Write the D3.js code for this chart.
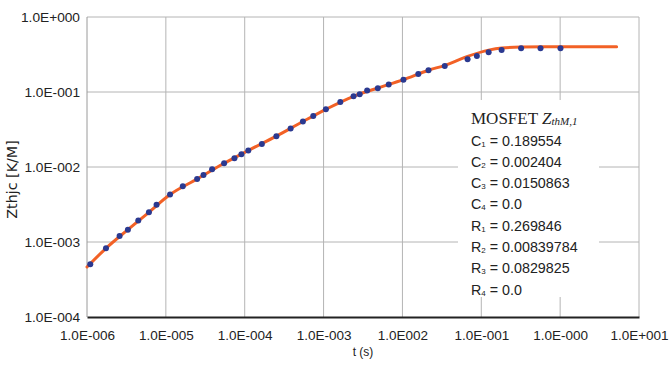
<!DOCTYPE html>
<html>
<head>
<meta charset="utf-8">
<script src="https://cdn.jsdelivr.net/npm/d3@7"></script>
<style>
  body { margin: 0; background: #fff; }
  svg { display: block; }
</style>
</head>
<body>
<script>
const dotT = [1.10e-6, 1.74e-6, 2.59e-6, 3.30e-6, 4.47e-6, 6.10e-6, 7.62e-6, 1.13e-5, 1.64e-5, 2.49e-5,
              3.00e-5, 3.86e-5, 5.48e-5, 7.41e-5, 9.08e-5, 1.11e-4, 1.65e-4, 2.52e-4, 3.82e-4, 5.47e-4,
              7.40e-4, 1.07e-3, 1.63e-3, 2.40e-3, 2.87e-3, 3.57e-3, 4.87e-3, 6.70e-3, 1.03e-2, 1.59e-2,
              2.14e-2, 3.44e-2, 6.70e-2, 8.79e-2, 0.124, 0.181, 0.320, 0.564, 1.01];
const dotZ = [5.04e-4, 8.24e-4, 1.20e-3, 1.46e-3, 1.93e-3, 2.49e-3, 3.15e-3, 4.29e-3, 5.53e-3, 6.92e-3,
              7.82e-3, 9.31e-3, 1.12e-2, 1.31e-2, 1.48e-2, 1.66e-2, 2.02e-2, 2.58e-2, 3.25e-2, 4.04e-2,
              4.79e-2, 5.88e-2, 7.33e-2, 8.77e-2, 9.31e-2, 0.105, 0.112, 0.126, 0.146, 0.174,
              0.195, 0.222, 0.273, 0.301, 0.340, 0.362, 0.383, 0.383, 0.383];

const fitT = [1e-6, 1.74e-6, 3.30e-6, 6.10e-6, 1.13e-5, 2.49e-5, 5.48e-5, 1.11e-4, 2.52e-4, 5.47e-4,
              1.07e-3, 2.40e-3, 4.87e-3, 1.03e-2, 2.14e-2, 3.46e-2, 6.70e-2, 0.124, 0.182, 0.318, 0.99, 5.2];
const fitZ = [4.64e-4, 8.24e-4, 1.46e-3, 2.49e-3, 4.29e-3, 6.92e-3, 1.12e-2, 1.66e-2, 2.58e-2, 4.04e-2,
              5.88e-2, 8.77e-2, 0.113, 0.146, 0.195, 0.227, 0.299, 0.362, 0.386, 0.397, 0.401, 0.401];

const xTicks = [1e-6, 1e-5, 1e-4, 1e-3, 1e-2, 1e-1, 1, 10];
const xTickLabels = ["1.0E-006", "1.0E-005", "1.0E-004", "1.0E-003", "1.0E002", "1.0E-001", "1.0E-000", "1.0E+001"];
const yTicks = [1e-4, 1e-3, 1e-2, 1e-1, 1];
const yTickLabels = ["1.0E-004", "1.0E-003", "1.0E-002", "1.0E-001", "1.0E+000"];

const paramNames = ["C", "C", "C", "C", "R", "R", "R", "R"];
const paramIdx = ["1", "2", "3", "4", "1", "2", "3", "4"];
const paramValues = ["0.189554", "0.002404", "0.0150863", "0.0", "0.269846", "0.00839784", "0.0829825", "0.0"];

const width = 670, height = 370;
const plotLeft = 87, plotRight = 639, plotTop = 17, plotBottom = 317;
const sans = "'Liberation Sans', Arial, Helvetica, sans-serif";

const svg = d3.select("body").append("svg")
    .attr("width", width)
    .attr("height", height);

const x = d3.scaleLog().domain([1e-6, 10]).range([plotLeft, plotRight]);
const y = d3.scaleLog().domain([1e-4, 1]).range([plotBottom, plotTop]);

// grid
const grid = svg.append("g");
grid.selectAll("line.v")
    .data(xTicks.slice(1))
    .enter().append("line")
    .attr("class", "v")
    .attr("x1", d => x(d)).attr("x2", d => x(d))
    .attr("y1", plotTop).attr("y2", plotBottom)
    .attr("stroke", "#b4b4b4").attr("stroke-width", 1);
grid.selectAll("line.h")
    .data(yTicks.slice(1))
    .enter().append("line")
    .attr("class", "h")
    .attr("x1", plotLeft).attr("x2", plotRight)
    .attr("y1", d => y(d)).attr("y2", d => y(d))
    .attr("stroke", "#b4b4b4").attr("stroke-width", 1);

// left axis line
svg.append("line")
    .attr("x1", plotLeft).attr("x2", plotLeft)
    .attr("y1", plotTop).attr("y2", plotBottom)
    .attr("stroke", "#9a9a9a").attr("stroke-width", 1);

// bottom axis
const xAxis = svg.append("g")
    .attr("transform", `translate(0,${plotBottom})`)
    .call(d3.axisBottom(x).tickValues(xTicks).tickSize(0).tickPadding(13)
        .tickFormat((d, i) => xTickLabels[i]));
xAxis.select(".domain").attr("stroke", "#222").attr("stroke-width", 2);
xAxis.selectAll("text")
    .attr("font-family", sans)
    .attr("font-size", "13.5px")
    .attr("fill", "#222");

const yAxis = svg.append("g")
    .attr("transform", `translate(${plotLeft},0)`)
    .call(d3.axisLeft(y).tickValues(yTicks).tickSize(0).tickPadding(7)
        .tickFormat((d, i) => yTickLabels[i]));
yAxis.select(".domain").remove();
yAxis.selectAll("text")
    .attr("font-family", sans)
    .attr("font-size", "13.7px")
    .attr("fill", "#222");

svg.append("text")
    .attr("x", (plotLeft + plotRight) / 2).attr("y", 356)
    .attr("text-anchor", "middle")
    .attr("font-family", sans)
    .attr("font-size", "12px")
    .attr("fill", "#222")
    .text("t (s)");

svg.append("text")
    .attr("transform", "translate(17,179.5) rotate(-90)")
    .attr("text-anchor", "middle")
    .attr("font-family", "'DejaVu Sans', sans-serif")
    .attr("font-size", "14.3px")
    .attr("fill", "#222")
    .text("Zthjc [K/M]");

// fitted curve
const line = d3.line()
    .x((d, i) => x(fitT[i]))
    .y((d, i) => y(fitZ[i]))
    .curve(d3.curveMonotoneX);
svg.append("path")
    .datum(fitT)
    .attr("d", line)
    .attr("fill", "none")
    .attr("stroke", "#f26126")
    .attr("stroke-width", 3)
    .attr("stroke-linecap", "round");

// measured points
svg.append("g")
    .selectAll("circle")
    .data(dotT)
    .enter().append("circle")
    .attr("cx", d => x(d))
    .attr("cy", (d, i) => y(dotZ[i]))
    .attr("r", 3)
    .attr("fill", "#2b3990");

// legend box
svg.append("rect")
    .attr("x", 458).attr("y", 100)
    .attr("width", 141).attr("height", 197)
    .attr("fill", "#fff");

const title = svg.append("text")
    .attr("x", 471).attr("y", 123.5)
    .attr("font-family", "'Liberation Serif', 'Times New Roman', serif")
    .attr("font-size", "17px")
    .attr("fill", "#222");
title.append("tspan").text("MOSFET ");
title.append("tspan").attr("font-style", "italic").text("Z");
title.append("tspan").attr("font-style", "italic").attr("font-size", "11px").attr("dy", 1.5).text("thM,1");

const rows = svg.append("g")
    .selectAll("text")
    .data(paramValues)
    .enter().append("text")
    .attr("x", 471)
    .attr("y", (d, i) => 145.5 + i * 21.3)
    .attr("font-family", sans)
    .attr("font-size", "14.3px")
    .attr("fill", "#222");
rows.append("tspan").text((d, i) => paramNames[i]);
rows.append("tspan").attr("font-size", "8px").attr("dy", 1).text((d, i) => paramIdx[i]);
rows.append("tspan").attr("dy", -1).text(d => " = " + d);
</script>
</body>
</html>
